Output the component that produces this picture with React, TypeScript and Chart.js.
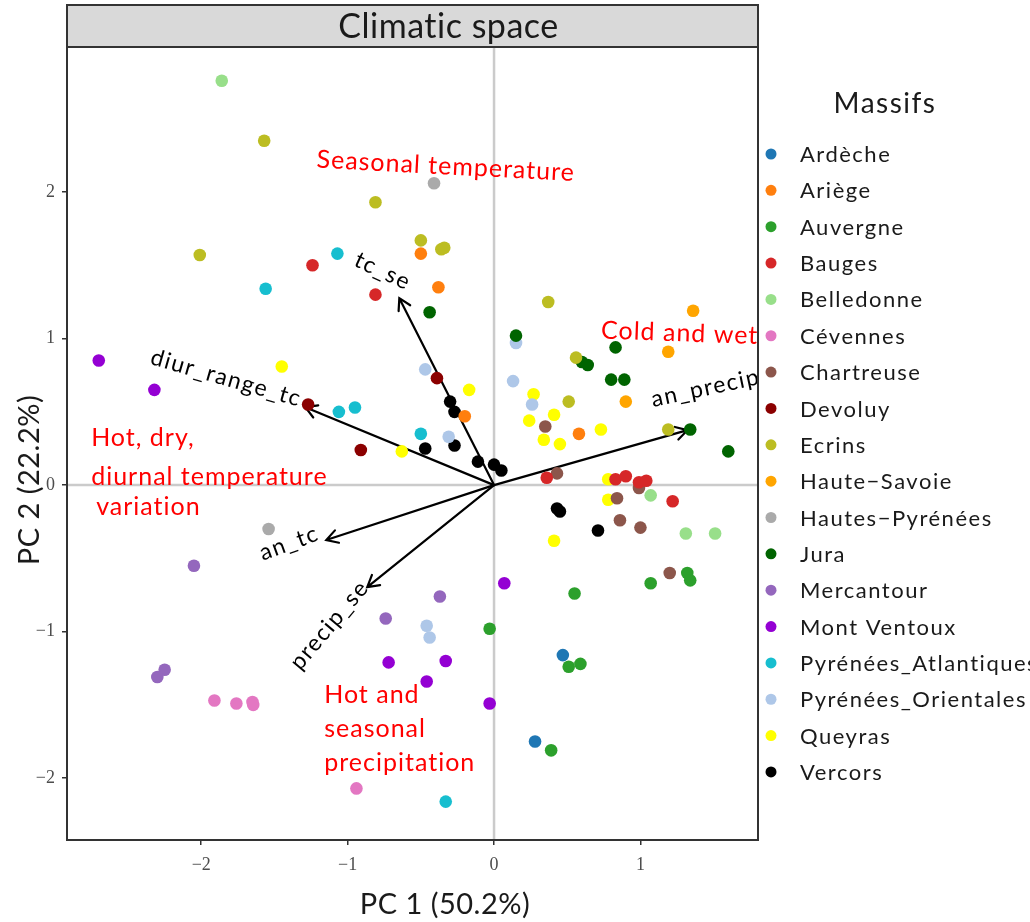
import React, { useEffect, useRef } from "react";
import { Chart, registerables } from "chart.js";

Chart.register(...registerables);

// ---- Data ----
const massifs = [
  "Ardèche", "Ariège", "Auvergne", "Bauges", "Belledonne", "Cévennes", "Chartreuse",
  "Devoluy", "Ecrins", "Haute−Savoie", "Hautes−Pyrénées", "Jura", "Mercantour",
  "Mont Ventoux", "Pyrénées_Atlantiques", "Pyrénées_Orientales", "Queyras", "Vercors",
];
const massifColors = [
  "#1f77b4", "#ff7f0e", "#2ca02c", "#d62728", "#98df8a", "#e377c2", "#8c564b",
  "#8b0000", "#bcbd22", "#ffa500", "#aaaaaa", "#006400", "#9467bd",
  "#9400d3", "#17becf", "#aec7e8", "#ffff00", "#000000",
];

const ardeche = [[0.47, -1.16], [0.28, -1.75]];
const ariege = [[-0.5, 1.58], [-0.38, 1.35], [-0.2, 0.47], [0.58, 0.35]];
const auvergne = [[0.55, -0.74], [1.07, -0.67], [1.32, -0.6], [1.34, -0.65], [-0.03, -0.98], [0.51, -1.24], [0.59, -1.22], [0.39, -1.81]];
const bauges = [[-1.24, 1.5], [-0.81, 1.3], [0.36, 0.05], [0.83, 0.04], [0.9, 0.06], [0.99, 0.02], [1.04, 0.03], [1.22, -0.11]];
const belledonne = [[-1.86, 2.76], [1.07, -0.07], [1.31, -0.33], [1.51, -0.33]];
const cevennes = [[-1.91, -1.47], [-1.76, -1.49], [-1.65, -1.48], [-1.645, -1.5], [-0.94, -2.07]];
const chartreuse = [[0.35, 0.4], [0.43, 0.08], [0.84, -0.09], [0.99, -0.02], [0.86, -0.24], [1.0, -0.29], [1.2, -0.6]];
const devoluy = [[-0.39, 0.73], [-1.27, 0.55], [-0.91, 0.24]];
const ecrins = [[-1.57, 2.35], [-0.81, 1.93], [-2.01, 1.57], [-0.5, 1.67], [-0.36, 1.61], [-0.34, 1.62], [0.37, 1.25], [0.56, 0.87], [0.51, 0.57], [1.19, 0.38]];
const hauteSavoie = [[1.36, 1.19], [1.19, 0.91], [0.9, 0.57]];
const hautesPyrenees = [[-0.41, 2.06], [-1.54, -0.3]];
const jura = [[-0.44, 1.18], [0.15, 1.02], [0.6, 0.84], [0.64, 0.82], [0.83, 0.94], [0.8, 0.72], [0.89, 0.72], [1.34, 0.38], [1.6, 0.23]];
const mercantour = [[-2.05, -0.55], [-0.74, -0.91], [-0.37, -0.76], [-2.25, -1.26], [-2.3, -1.31]];
const montVentoux = [[-2.7, 0.85], [-2.32, 0.65], [0.07, -0.67], [-0.72, -1.21], [-0.33, -1.2], [-0.46, -1.34], [-0.03, -1.49]];
const pyrAtlantiques = [[-1.07, 1.58], [-1.56, 1.34], [-1.06, 0.5], [-0.95, 0.53], [-0.5, 0.35], [-0.33, -2.16]];
const pyrOrientales = [[-0.47, 0.79], [0.15, 0.97], [0.13, 0.71], [0.26, 0.55], [-0.31, 0.33], [-0.46, -0.96], [-0.44, -1.04]];
const queyras = [[-1.45, 0.81], [-0.63, 0.23], [-0.17, 0.65], [0.27, 0.62], [0.41, 0.48], [0.24, 0.44], [0.34, 0.31], [0.45, 0.28], [0.73, 0.38], [0.78, 0.04], [0.78, -0.1], [0.41, -0.38]];
const vercors = [[-0.3, 0.57], [-0.27, 0.5], [-0.47, 0.25], [-0.27, 0.27], [-0.11, 0.16], [0.0, 0.14], [0.05, 0.1], [0.43, -0.16], [0.45, -0.18], [0.71, -0.31]];

const massifPoints = [
  ardeche, ariege, auvergne, bauges, belledonne, cevennes, chartreuse, devoluy, ecrins,
  hauteSavoie, hautesPyrenees, jura, mercantour, montVentoux, pyrAtlantiques, pyrOrientales, queyras, vercors,
];

// Variable loadings (arrows)
const loadingNames = ["tc_se", "diur_range_tc", "an_tc", "precip_se", "an_precip"];
const loadingX = [-0.647, -1.289, -1.146, -0.866, 1.321];
const loadingY = [1.276, 0.532, -0.375, -0.696, 0.375];
// Arrow label anchors (data units) and rotation (deg)
const loadingLabelX = [-0.76, -1.83, -1.4, -1.125, 1.445];
const loadingLabelY = [1.46, 0.73, -0.396, -0.955, 0.662];
const loadingLabelRot = [25, 16, -20, -50, -12];

// Red interpretive annotations
const annotTexts = ["Seasonal temperature", "Cold and wet"];
const annotX = [-0.33, 1.268];
const annotY = [2.176, 1.037];
const annotRot = [3, 2];
const hotDryLines = ["Hot, dry,", "diurnal temperature", "variation"];
const hotDryX = [-2.752, -2.752, -2.718];
const hotDryY = [0.321, 0.055, -0.15];
const hotSeasLines = ["Hot and", "seasonal", "precipitation"];
const hotSeasX = -1.16;
const hotSeasY = [-1.432, -1.664, -1.896];

const xTicks = [-2, -1, 0, 1];
const yTicks = [-2, -1, 0, 1, 2];

const FONT = "Lato, 'Open Sans', sans-serif";

function spacing(ctx: any, px: number) {
  try { ctx.letterSpacing = px + "px"; } catch (e) { /* ignore */ }
}

const decorPlugin = {
  id: "decor",
  beforeDatasetsDraw(chart: any) {
    const { ctx, chartArea: a, scales } = chart;
    const xs = scales.x, ys = scales.y;
    ctx.save();
    // zero lines
    ctx.strokeStyle = "#cbcbcb";
    ctx.lineWidth = 2.5;
    const x0 = xs.getPixelForValue(0), y0 = ys.getPixelForValue(0);
    ctx.beginPath();
    ctx.moveTo(x0, a.top); ctx.lineTo(x0, a.bottom);
    ctx.moveTo(a.left, y0); ctx.lineTo(a.right, y0);
    ctx.stroke();

    // arrows
    ctx.strokeStyle = "#000";
    ctx.lineWidth = 2.2;
    ctx.lineCap = "round";
    for (let i = 0; i < loadingNames.length; i++) {
      const ex = xs.getPixelForValue(loadingX[i]);
      const ey = ys.getPixelForValue(loadingY[i]);
      ctx.beginPath();
      ctx.moveTo(x0, y0); ctx.lineTo(ex, ey);
      const ang = Math.atan2(ey - y0, ex - x0);
      const hl = 13, ha = Math.PI / 6;
      ctx.moveTo(ex - hl * Math.cos(ang - ha), ey - hl * Math.sin(ang - ha));
      ctx.lineTo(ex, ey);
      ctx.lineTo(ex - hl * Math.cos(ang + ha), ey - hl * Math.sin(ang + ha));
      ctx.stroke();
    }
    // arrow labels
    ctx.fillStyle = "#000";
    ctx.font = `23px ${FONT}`;
    spacing(ctx, 1.5);
    ctx.textAlign = "center";
    ctx.textBaseline = "middle";
    for (let i = 0; i < loadingNames.length; i++) {
      ctx.save();
      ctx.translate(xs.getPixelForValue(loadingLabelX[i]), ys.getPixelForValue(loadingLabelY[i]));
      ctx.rotate((loadingLabelRot[i] * Math.PI) / 180);
      ctx.fillText(loadingNames[i], 0, 0);
      ctx.restore();
    }
    // red annotations
    ctx.fillStyle = "#ff0000";
    ctx.font = `25px ${FONT}`;
    spacing(ctx, 1);
    for (let i = 0; i < annotTexts.length; i++) {
      ctx.save();
      ctx.translate(xs.getPixelForValue(annotX[i]), ys.getPixelForValue(annotY[i]));
      ctx.rotate((annotRot[i] * Math.PI) / 180);
      ctx.fillText(annotTexts[i], 0, 0);
      ctx.restore();
    }
    ctx.textAlign = "left";
    for (let i = 0; i < hotDryLines.length; i++) {
      ctx.fillText(hotDryLines[i], xs.getPixelForValue(hotDryX[i]), ys.getPixelForValue(hotDryY[i]));
    }
    for (let i = 0; i < hotSeasLines.length; i++) {
      ctx.fillText(hotSeasLines[i], xs.getPixelForValue(hotSeasX), ys.getPixelForValue(hotSeasY[i]));
    }
    ctx.restore();
  },
  afterDraw(chart: any) {
    const { ctx, chartArea: a } = chart;
    ctx.save();
    // panel frame
    ctx.strokeStyle = "#333333";
    ctx.lineWidth = 2;
    ctx.strokeRect(a.left, a.top, a.right - a.left, a.bottom - a.top);
    // strip
    const stripTop = 5;
    ctx.fillStyle = "#d9d9d9";
    ctx.fillRect(a.left, stripTop, a.right - a.left, a.top - stripTop);
    ctx.strokeRect(a.left, stripTop, a.right - a.left, a.top - stripTop);
    ctx.fillStyle = "#1a1a1a";
    ctx.font = `34px ${FONT}`;
    spacing(ctx, 0.5);
    ctx.textAlign = "center";
    ctx.textBaseline = "middle";
    ctx.fillText("Climatic space", (a.left + a.right) / 2 + 36, (stripTop + a.top) / 2 + 1);
    // axis titles
    ctx.font = `29px ${FONT}`;
    ctx.fillText("PC 1 (50.2%)", a.left + 0.547 * (a.right - a.left), 905);
    ctx.save();
    ctx.translate(30, 480);
    ctx.rotate(-Math.PI / 2);
    ctx.fillText("PC 2 (22.2%)", 0, 0);
    ctx.restore();
    // legend
    ctx.font = `28px ${FONT}`;
    spacing(ctx, 1.5);
    ctx.fillText("Massifs", a.right + 127, 104);
    ctx.font = `22px ${FONT}`;
    ctx.textAlign = "left";
    for (let i = 0; i < massifs.length; i++) {
      const yy = 154 + i * 36.35;
      ctx.fillStyle = massifColors[i];
      ctx.beginPath();
      ctx.arc(a.right + 13, yy, 5.5, 0, Math.PI * 2);
      ctx.fill();
      ctx.fillStyle = "#1a1a1a";
      ctx.fillText(massifs[i], a.right + 42, yy + 1);
    }
    ctx.restore();
  },
};

const fmt = (v: number) => (v < 0 ? "−" + Math.abs(v) : String(v));

export default function App() {
  const ref = useRef<HTMLCanvasElement | null>(null);
  useEffect(() => {
    if (!ref.current) return;
    const datasets = massifs.map((name, i) => ({
      label: name,
      data: massifPoints[i].map(([x, y]) => ({ x, y })),
      backgroundColor: massifColors[i],
      borderColor: massifColors[i],
      borderWidth: 0,
      pointRadius: 6.3,
      pointHoverRadius: 6.3,
    }));
    const chart = new Chart(ref.current, {
      type: "scatter",
      data: { datasets },
      options: {
        animation: false,
        responsive: false,
        devicePixelRatio: 1,
        layout: { padding: { top: 47, right: 272, left: 0, bottom: 0 } },
        plugins: { legend: { display: false }, tooltip: { enabled: false }, title: { display: false } },
        scales: {
          x: {
            type: "linear",
            min: -2.917,
            max: 1.803,
            afterBuildTicks: (s: any) => { s.ticks = xTicks.map((value) => ({ value })); },
            afterFit: (s: any) => { s.height = 82; },
            grid: { display: true, drawOnChartArea: false, drawTicks: true, tickLength: 5, color: "#333333", lineWidth: 1.5 },
            border: { display: false },
            ticks: { padding: 9, color: "#4d4d4d", font: { family: "'Liberation Serif', serif", size: 18 }, callback: (v: any) => fmt(Number(v)) },
          },
          y: {
            type: "linear",
            min: -2.422,
            max: 2.99,
            afterBuildTicks: (s: any) => { s.ticks = yTicks.map((value) => ({ value })); },
            afterFit: (s: any) => { s.width = 67; },
            grid: { display: true, drawOnChartArea: false, drawTicks: true, tickLength: 5, color: "#333333", lineWidth: 1.5 },
            border: { display: false },
            ticks: { padding: 7, color: "#4d4d4d", font: { family: "'Liberation Serif', serif", size: 18 }, callback: (v: any) => fmt(Number(v)) },
          },
        },
      },
      plugins: [decorPlugin],
    } as any);
    return () => chart.destroy();
  }, []);
  return (
    <div style={{ position: "absolute", left: 0, top: 0, width: 1030, height: 922, background: "#fff" }}>
      <canvas ref={ref} width={1030} height={922} style={{ width: 1030, height: 922, display: "block" }} />
    </div>
  );
}
